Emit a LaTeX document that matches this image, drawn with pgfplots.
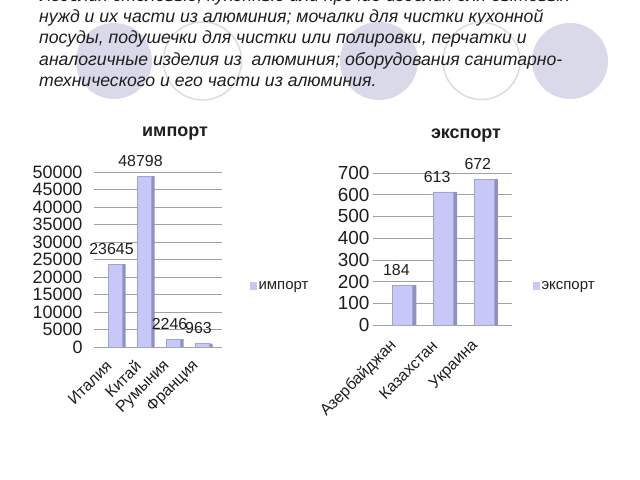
\documentclass[border=0pt]{standalone}
\usepackage{pgfplots}
\pgfplotsset{compat=1.18}
\usepackage{fontspec}
\setmainfont{Liberation Sans}
\definecolor{barfront}{HTML}{C8C8F8}
\definecolor{barside}{HTML}{9090C2}
\definecolor{barframe}{HTML}{A4A4D4}
\definecolor{circfill}{HTML}{D9D9EA}
\definecolor{circline}{HTML}{DCDCDC}
\definecolor{gridc}{HTML}{A0A0A0}
\definecolor{txt}{HTML}{1E1E1E}
\pgfplotsset{
  common/.style={
    scale only axis,
    anchor=south west,
    clip=false,
    ymin=0,
    axis lines*=left,
    y axis line style={draw=none},
    x axis line style={draw=gridc},
    ymajorgrids,
    grid style={draw=gridc, line width=0.6bp},
    tick align=outside,
    xtick style={draw=none},
    ytick style={draw=gridc, line width=0.6bp},
    major tick length=3bp,
    minor tick length=6bp,
    minor tick style={draw=gridc, line width=0.6bp},
    scaled y ticks=false,
    /pgf/number format/1000 sep={},
    /pgf/number format/assume math mode=true,
    xtick={0,1,2,3},
    xticklabel shift=11bp,
    xticklabel style={rotate=45, anchor=east, font=\fontsize{16}{16}\selectfont, text=txt},
    legend image code/.code={\fill[barfront] (0bp,-3.5bp) rectangle (6bp,3.5bp);},
    legend style={draw=none, fill=none, font=\fontsize{15}{15}\selectfont, text=txt, inner sep=0pt},
    nodes near coords style={font=\fontsize{16}{16}\selectfont, text=txt, anchor=south, yshift=6bp},
  },
}
\begin{document}
\begin{tikzpicture}[x=1bp,y=1bp]
\useasboundingbox (0,0) rectangle (640,480);
\clip (0,0) rectangle (640,480);
\fill[white] (0,0) rectangle (640,480);
% decorative circles
\fill[circfill] (114,419) circle (38);
\draw[circline, line width=1.5bp] (202.5,419) circle (39);
\fill[circfill] (379,419) circle (39);
\draw[circline, line width=1.5bp] (481.5,419) circle (38.5);
\fill[circfill] (570,419) circle (38);
% text
\begin{scope}[every node/.style={anchor=base west, inner sep=0pt, text=txt, font=\fontsize{17.7}{17.7}\selectfont\itshape}]
\node at (39,478.8) {Изделия столовые, кухонные или прочие изделия для бытовых};
\node at (39,457.5) {нужд и их части из алюминия; мочалки для чистки кухонной};
\node at (39,436.2) {посуды, подушечки для чистки или полировки, перчатки и};
\node at (39,414.9) {аналогичные изделия из\ \ алюминия; оборудования санитарно-};
\node at (39,393.6) {технического и его части из алюминия.};
\end{scope}
% import chart
\begin{axis}[common,
  at={(97bp,133bp)}, width=125bp, height=175bp,
  xmin=-0.5, xmax=3.81, ymax=50000,
  ytick={0,5000,...,50000},
  yticklabel style={font=\fontsize{18}{18}\selectfont, text=txt, xshift=-8bp},
  minor xtick={-0.5,0.5,1.5,2.5,3.5},
  xticklabels={Италия,Китай,Румыния,Франция},
  title={\textbf{импорт}},
  title style={at={(axis description cs:0.624,1.183)}, anchor=center, font=\fontsize{18}{18}\selectfont, text=txt},
  legend style={at={(axis description cs:1.224,0.35)}, anchor=west},
]
\addplot[ybar, bar width=3bp, bar shift=12.5bp, fill=barside, draw=none, forget plot]
  coordinates {(0,23645) (1,48798) (2,2246) (3,963)};
\addplot[ybar, bar width=14bp, bar shift=4bp, fill=barfront, draw=barframe, line width=0.4bp,
  nodes near coords={\pgfmathprintnumber[fixed,precision=0,1000 sep={}]{\pgfplotspointmeta}}]
  coordinates {(0,23645) (1,48798) (2,2246) (3,963)};
\addlegendentry{импорт}
\end{axis}
% export chart
\begin{axis}[common,
  at={(376bp,155bp)}, width=136bp, height=152bp,
  xmin=-0.5, xmax=2.84, ymax=700,
  ytick={0,100,...,700},
  yticklabel style={font=\fontsize{19}{19}\selectfont, text=txt},
  minor xtick={-0.5,0.5,1.5,2.5},
  xtick={0,1,2},
  xticklabels={Азербайджан,Казахстан,Украина},
  xticklabel shift=13bp,
  title={\textbf{экспорт}},
  title style={at={(axis description cs:0.662,1.204)}, anchor=center, font=\fontsize{18}{18}\selectfont, text=txt},
  legend style={at={(axis description cs:1.154,0.257)}, anchor=west},
]
\addplot[ybar, bar width=4bp, bar shift=18bp, fill=barside, draw=none, forget plot]
  coordinates {(0,184) (1,613) (2,672)};
\addplot[ybar, bar width=20bp, bar shift=6bp, fill=barfront, draw=barframe, line width=0.4bp,
  nodes near coords={\pgfmathprintnumber[fixed,precision=0,1000 sep={}]{\pgfplotspointmeta}}]
  coordinates {(0,184) (1,613) (2,672)};
\addlegendentry{экспорт}
\end{axis}
\end{tikzpicture}
\end{document}
